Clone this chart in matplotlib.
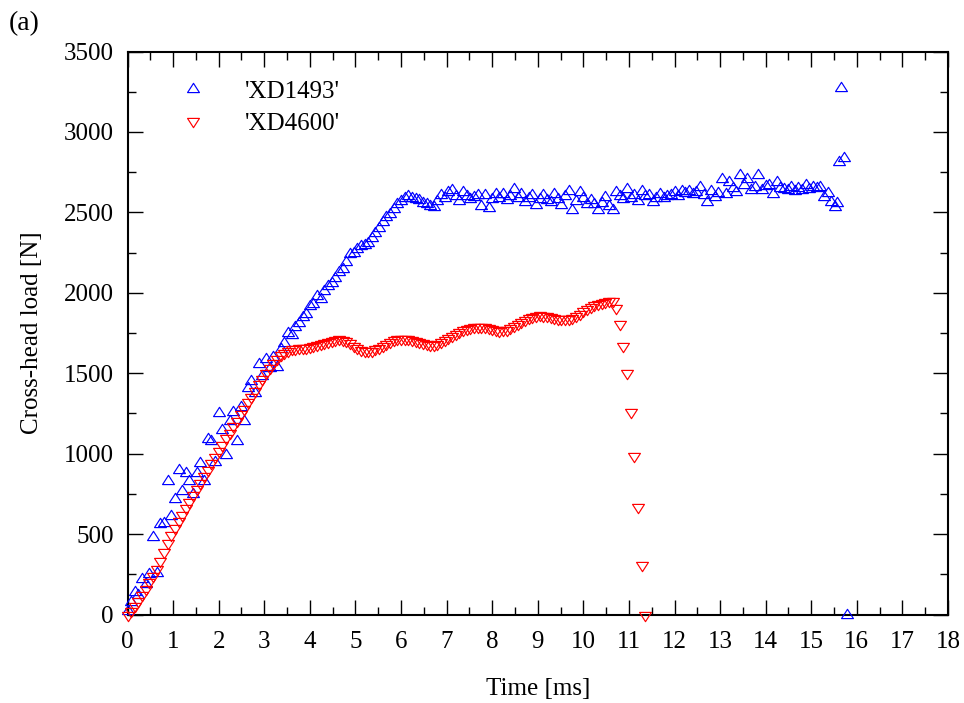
import matplotlib
matplotlib.use("Agg")
import matplotlib.pyplot as plt
from matplotlib.path import Path
from matplotlib.ticker import MultipleLocator

plt.rcParams['font.family'] = ['Liberation Serif', 'DejaVu Serif']

# ---------------- data ----------------
blue_label = "'XD1493'"
red_label = "'XD4600'"

blue_time = [
    0.00, 0.08, 0.16, 0.24, 0.32, 0.40, 0.48, 0.56, 0.64, 0.72,
    0.80, 0.88, 0.96, 1.04, 1.12, 1.20, 1.28, 1.36, 1.44, 1.52,
    1.60, 1.68, 1.76, 1.84, 1.92, 2.00, 2.08, 2.16, 2.24, 2.32,
    2.40, 2.48, 2.56, 2.64, 2.72, 2.80, 2.88, 2.96, 3.04, 3.12,
    3.20, 3.28, 3.36, 3.44, 3.52, 3.60, 3.68, 3.76, 3.84, 3.92,
    4.00, 4.08, 4.16, 4.24, 4.32, 4.40, 4.48, 4.56, 4.64, 4.72,
    4.80, 4.88, 4.96, 5.04, 5.12, 5.20, 5.28, 5.36, 5.44, 5.52,
    5.60, 5.68, 5.76, 5.84, 5.92, 6.00, 6.08, 6.16, 6.24, 6.32,
    6.40, 6.48, 6.56, 6.64, 6.72, 6.80, 6.88, 6.96, 7.04, 7.12,
    7.20, 7.28, 7.36, 7.44, 7.52, 7.60, 7.68, 7.76, 7.84, 7.92,
    8.00, 8.08, 8.16, 8.24, 8.32, 8.40, 8.48, 8.56, 8.64, 8.72,
    8.80, 8.88, 8.96, 9.04, 9.12, 9.20, 9.28, 9.36, 9.44, 9.52,
    9.60, 9.68, 9.76, 9.84, 9.92, 10.00, 10.08, 10.16, 10.24, 10.32,
    10.40, 10.48, 10.56, 10.64, 10.72, 10.80, 10.88, 10.96, 11.04, 11.12,
    11.20, 11.28, 11.36, 11.44, 11.52, 11.60, 11.68, 11.76, 11.84, 11.92,
    12.00, 12.08, 12.16, 12.24, 12.32, 12.40, 12.48, 12.56, 12.64, 12.72,
    12.80, 12.88, 12.96, 13.04, 13.12, 13.20, 13.28, 13.36, 13.44, 13.52,
    13.60, 13.68, 13.76, 13.84, 13.92, 14.00, 14.08, 14.16, 14.24, 14.32,
    14.40, 14.48, 14.56, 14.64, 14.72, 14.80, 14.88, 14.96, 15.04, 15.12,
    15.20, 15.28, 15.36, 15.44, 15.52, 15.56, 15.60, 15.66, 15.72, 15.78,
]
blue_load = [
    20, 80, 140, 120, 220, 190, 250, 480, 260, 560,
    570, 830, 610, 720, 900, 770, 880, 830, 750, 880,
    940, 830, 1090, 1080, 950, 1250, 1150, 990, 1200, 1260,
    1080, 1290, 1200, 1410, 1450, 1380, 1560, 1480, 1590, 1530,
    1600, 1540, 1650, 1690, 1750, 1740, 1790, 1810, 1850, 1870,
    1920, 1930, 1980, 1960, 2010, 2040, 2060, 2090, 2130, 2150,
    2190, 2240, 2250, 2270, 2290, 2300, 2310, 2340, 2370, 2400,
    2440, 2470, 2490, 2520, 2550, 2570, 2590, 2600, 2590, 2585,
    2575, 2560, 2555, 2540, 2535, 2570, 2610, 2590, 2625, 2640,
    2600, 2570, 2625, 2600, 2580, 2595, 2610, 2540, 2605, 2525,
    2580, 2615, 2590, 2615, 2575, 2600, 2645, 2590, 2615, 2565,
    2590, 2605, 2545, 2585, 2605, 2575, 2565, 2615, 2580, 2545,
    2600, 2635, 2515, 2570, 2625, 2590, 2555, 2575, 2555, 2515,
    2560, 2595, 2540, 2515, 2625, 2600, 2580, 2645, 2590, 2605,
    2570, 2635, 2600, 2605, 2565, 2590, 2615, 2590, 2600, 2610,
    2625, 2600, 2630, 2620, 2635, 2615, 2625, 2655, 2610, 2565,
    2635, 2595, 2620, 2710, 2615, 2690, 2650, 2625, 2730, 2670,
    2710, 2640, 2655, 2730, 2640, 2665, 2670, 2615, 2690, 2650,
    2645, 2640, 2660, 2635, 2650, 2640, 2670, 2645, 2660, 2650,
    2655, 2595, 2620, 2565, 2535, 2560, 2815, 3275, 2840, 0,
]

red_time = [
    0.00, 0.08, 0.16, 0.24, 0.32, 0.40, 0.48, 0.56, 0.64, 0.72,
    0.80, 0.88, 0.96, 1.04, 1.12, 1.20, 1.28, 1.36, 1.44, 1.52,
    1.60, 1.68, 1.76, 1.84, 1.92, 2.00, 2.08, 2.16, 2.24, 2.32,
    2.40, 2.48, 2.56, 2.64, 2.72, 2.80, 2.88, 2.96, 3.04, 3.12,
    3.20, 3.28, 3.36, 3.44, 3.52, 3.60, 3.68, 3.76, 3.84, 3.92,
    4.00, 4.08, 4.16, 4.24, 4.32, 4.40, 4.48, 4.56, 4.64, 4.72,
    4.80, 4.88, 4.96, 5.04, 5.12, 5.20, 5.28, 5.36, 5.44, 5.52,
    5.60, 5.68, 5.76, 5.84, 5.92, 6.00, 6.08, 6.16, 6.24, 6.32,
    6.40, 6.48, 6.56, 6.64, 6.72, 6.80, 6.88, 6.96, 7.04, 7.12,
    7.20, 7.28, 7.36, 7.44, 7.52, 7.60, 7.68, 7.76, 7.84, 7.92,
    8.00, 8.08, 8.16, 8.24, 8.32, 8.40, 8.48, 8.56, 8.64, 8.72,
    8.80, 8.88, 8.96, 9.04, 9.12, 9.20, 9.28, 9.36, 9.44, 9.52,
    9.60, 9.68, 9.76, 9.84, 9.92, 10.00, 10.08, 10.16, 10.24, 10.32,
    10.40, 10.48, 10.56, 10.64, 10.72, 10.80, 10.88, 10.96, 11.04, 11.12,
    11.20, 11.28, 11.36,
]
red_load = [
    0, 20, 50, 85, 120, 160, 200, 240, 285, 335,
    390, 445, 495, 540, 580, 620, 660, 700, 740, 780,
    820, 860, 900, 940, 980, 1015, 1055, 1095, 1130, 1170,
    1205, 1245, 1280, 1320, 1355, 1390, 1430, 1465, 1500, 1535,
    1565, 1590, 1612, 1628, 1640, 1648, 1652, 1654, 1656, 1659,
    1662, 1667, 1673, 1680, 1688, 1696, 1703, 1708, 1710, 1708,
    1700, 1688, 1672, 1658, 1647, 1640, 1638, 1641, 1648, 1658,
    1670, 1683, 1695, 1704, 1710, 1713, 1714, 1712, 1708, 1701,
    1693, 1685, 1679, 1676, 1677, 1683, 1692, 1704, 1716, 1729,
    1742, 1755, 1766, 1776, 1783, 1788, 1790, 1789, 1785, 1779,
    1773, 1768, 1765, 1766, 1771, 1780, 1792, 1806, 1820, 1833,
    1844, 1852, 1857, 1859, 1858, 1854, 1848, 1842, 1837, 1834,
    1834, 1838, 1846, 1857, 1870, 1884, 1898, 1911, 1922, 1931,
    1938, 1944, 1948, 1950, 1905, 1805, 1670, 1500, 1260, 985,
    670, 310, 0,
]

x_ticks = list(range(0, 19))
y_ticks = [0, 500, 1000, 1500, 2000, 2500, 3000, 3500]

# ---------------- markers (gnuplot-like open triangles) ----------------
tri_up = Path([(0, 1.04), (-1, -0.52), (1, -0.52), (0, 1.04)],
              [Path.MOVETO, Path.LINETO, Path.LINETO, Path.CLOSEPOLY])
tri_down = Path([(0, -1.04), (-1, 0.52), (1, 0.52), (0, -1.04)],
                [Path.MOVETO, Path.LINETO, Path.LINETO, Path.CLOSEPOLY])

W, H = 964, 703
fig = plt.figure(figsize=(W / 100, H / 100), dpi=100)
ax = fig.add_axes([127.5 / W, 1 - 614.5 / H, (948 - 127.5) / W, (614.5 - 51.5) / H])

ms = 8.9
ax.plot(blue_time, blue_load, linestyle='none', marker=tri_up, markersize=ms,
        markerfacecolor='none', markeredgecolor='#0000ff', markeredgewidth=0.85,
        clip_on=False, label=blue_label, zorder=3)
ax.plot(red_time, red_load, linestyle='none', marker=tri_down, markersize=ms,
        markerfacecolor='none', markeredgecolor='#ff0000', markeredgewidth=0.85,
        clip_on=False, label=red_label, zorder=4)

ax.set_xlim(0, 18)
ax.set_ylim(0, 3500)
ax.set_xticks(x_ticks)
ax.set_yticks(y_ticks)
ax.xaxis.set_minor_locator(MultipleLocator(0.5))
ax.yaxis.set_minor_locator(MultipleLocator(250))

fs = 18
ax.tick_params(which='both', direction='in', top=True, right=True, labelsize=fs, width=1.0)
ax.tick_params(which='major', length=11)
ax.tick_params(which='minor', length=6)
ax.tick_params(axis='x', which='major', pad=12)
ax.tick_params(axis='y', which='major', pad=10)
for sp in ax.spines.values():
    sp.set_linewidth(1.5)

ax.set_xlabel('Time [ms]', fontsize=fs, labelpad=18)
ax.set_ylabel('Cross-head load [N]', fontsize=fs, labelpad=15)

fig.text(9 / W, 1 - 30 / H, '(a)', fontsize=20, ha='left', va='baseline')

leg = ax.legend(loc='upper left', bbox_to_anchor=(180 / W, 1 - 80 / H),
                bbox_transform=fig.transFigure, frameon=False, fontsize=fs,
                handlelength=1.0, handletextpad=1.6, labelspacing=0.38,
                borderpad=0, borderaxespad=0, markerscale=1.0)

fig.savefig('out.png', dpi=100)
